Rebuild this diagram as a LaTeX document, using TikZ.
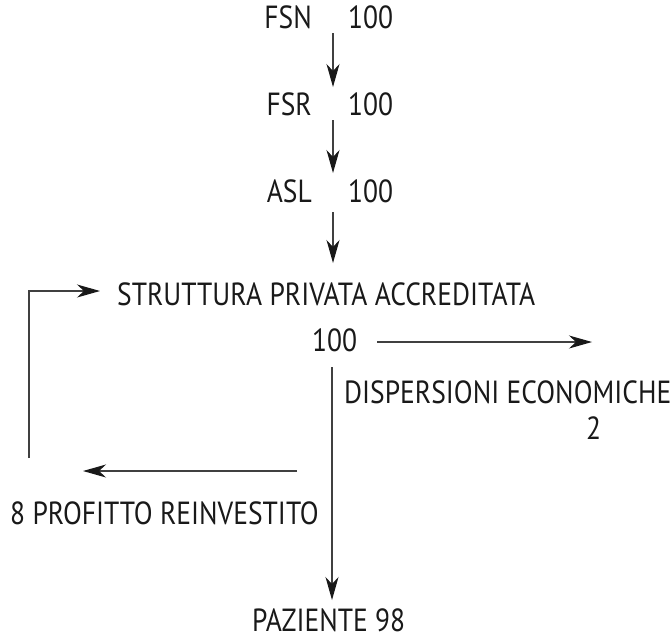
\documentclass[tikz,border=0pt]{standalone}
\usepackage{fontspec}
\setmainfont{PT Sans}[FakeStretch=0.86]
\usetikzlibrary{arrows.meta}
\begin{document}
\begin{tikzpicture}[x=1pt,y=-1pt,
  lbl/.style={inner sep=0pt,text depth=0pt,font=\fontsize{32}{34}\selectfont,text=black!90},
  flow/.style={line width=1.1pt,draw=black!75,-{Stealth[length=23pt,width=13pt,inset=7pt,color=black!90]}}]
\useasboundingbox (0,0) rectangle (671,638);
% top chain
\node[lbl,anchor=base east] (fsn) at (312,28) {FSN};
\node[lbl,anchor=base west] (fsnv) at (348,28) {100};
\node[lbl,anchor=base east] (fsr) at (312,115) {FSR};
\node[lbl,anchor=base west] (fsrv) at (348,115) {100};
\node[lbl,anchor=base east] (asl) at (312,202) {ASL};
\node[lbl,anchor=base west] (aslv) at (348,202) {100};
\coordinate (a1s) at (333,33); \coordinate (a1e) at (333,87);
\coordinate (a2s) at (333,120); \coordinate (a2e) at (333,173);
\coordinate (a3s) at (333,212); \coordinate (a3e) at (333,263);
\draw[flow] (a1s) -- (a1e);
\draw[flow] (a2s) -- (a2e);
\draw[flow] (a3s) -- (a3e);
% structure
\node[lbl,anchor=base west] (spa) at (117,305) {STRUTTURA PRIVATA ACCREDITATA};
\node[lbl,anchor=base west] (cento) at (312,351) {100};
\coordinate (rs) at (377,342); \coordinate (re) at (592,342);
\draw[flow] (rs) -- (re);
\node[lbl,anchor=base west] (disp) at (344,403) {DISPERSIONI ECONOMICHE};
\node[lbl,anchor=base west] (due) at (586,439) {2};
% feedback loop
\coordinate (lb) at (29,458); \coordinate (lt) at (29,291); \coordinate (lh) at (100,291);
\draw[flow] (lb) -- (lt) -- (lh);
\coordinate (ls) at (297,471); \coordinate (le) at (83,471);
\draw[flow] (ls) -- (le);
\node[lbl,anchor=base west] (prof) at (10,524) {8 PROFITTO REINVESTITO};
% main down
\coordinate (ms) at (332,367); \coordinate (me) at (332,600);
\draw[flow] (ms) -- (me);
\node[lbl,anchor=base west] (paz) at (252,631) {PAZIENTE 98};
\end{tikzpicture}
\end{document}
